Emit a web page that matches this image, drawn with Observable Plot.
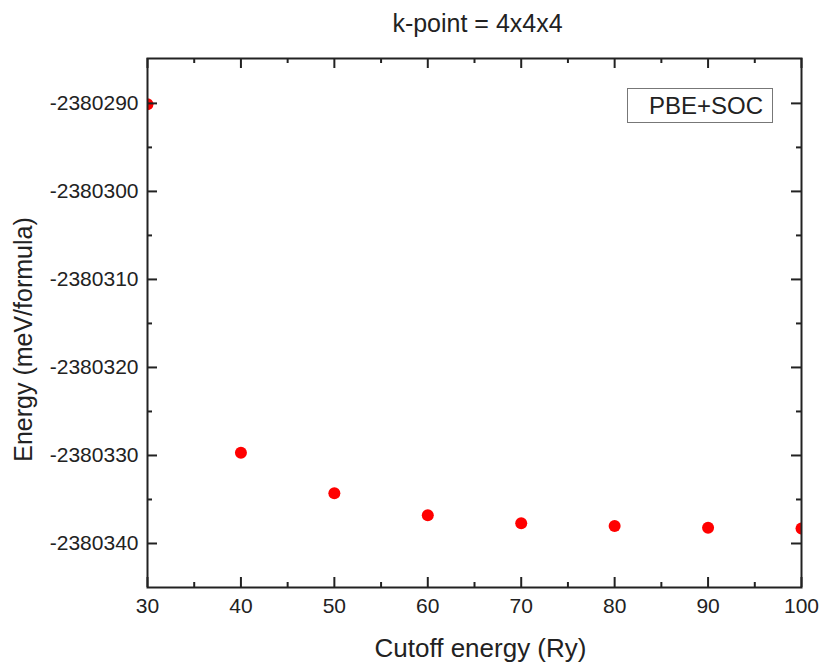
<!DOCTYPE html>
<html><head><meta charset="utf-8">
<script src="https://cdn.jsdelivr.net/npm/d3@7"></script>
<script src="https://cdn.jsdelivr.net/npm/@observablehq/plot@0.6"></script>
<style>
body{margin:0;background:#fff;font-family:Arial,"Liberation Sans",sans-serif;}
#wrap{position:relative;width:821px;height:663px;overflow:hidden;}
#title{height:34px;line-height:34px;padding-top:6px;padding-left:134px;text-align:center;font-size:25px;color:#222;white-space:nowrap;}
#legend{position:absolute;left:627px;top:88px;width:135px;height:33px;padding-right:9px;border:1px solid #777;text-align:right;line-height:33px;font-size:24px;color:#222;background:#fff;}
svg{display:block;}
</style>
</head><body>
<div id="wrap">
  <div id="title">k-point = 4x4x4</div>
  <div id="chart"></div>
  <div id="legend">PBE+SOC</div>
</div>
<script>
const cutoff = [30, 40, 50, 60, 70, 80, 90, 100];
const energy = [-2380290.1, -2380329.7, -2380334.3, -2380336.8, -2380337.7, -2380338.0, -2380338.2, -2380338.3];
const xMajor = [30, 40, 50, 60, 70, 80, 90, 100];
const xMinor = [35, 45, 55, 65, 75, 85, 95];
const yMajor = [-2380340, -2380330, -2380320, -2380310, -2380300, -2380290];
const yMinor = [-2380335, -2380325, -2380315, -2380305, -2380295];
const xLabel = "Cutoff energy (Ry)";
const yLabel = "Energy (meV/formula)";

const points = cutoff.map((x, i) => ({x, y: energy[i]}));
const W = 821, H = 623, mT = 18, mB = 76, mL = 147, mR = 20;
const ph = H - mT - mB, pw = W - mL - mR;
const ink = "#222";
const fmt = d => String(d);

const chart = Plot.plot({
  width: W, height: H,
  marginTop: mT, marginBottom: mB, marginLeft: mL, marginRight: mR,
  x: {domain: [30, 100]},
  y: {domain: [-2380345, -2380284.9]},
  style: {fontFamily: "Arial, 'Liberation Sans', sans-serif", color: ink, background: "white"},
  marks: [
    Plot.dot(points, {x: "x", y: "y", r: 6, fill: "#ff0000", clip: true}),
    // inward ticks, bottom & top
    Plot.tickX(xMajor, {x: d => d, stroke: ink, strokeWidth: 2, insetTop: ph - 10}),
    Plot.tickX(xMajor, {x: d => d, stroke: ink, strokeWidth: 2, insetBottom: ph - 10}),
    Plot.tickX(xMinor, {x: d => d, stroke: ink, strokeWidth: 2, insetTop: ph - 5}),
    Plot.tickX(xMinor, {x: d => d, stroke: ink, strokeWidth: 2, insetBottom: ph - 5}),
    // inward ticks, left & right
    Plot.tickY(yMajor, {y: d => d, stroke: ink, strokeWidth: 2, insetRight: pw - 10}),
    Plot.tickY(yMajor, {y: d => d, stroke: ink, strokeWidth: 2, insetLeft: pw - 10}),
    Plot.tickY(yMinor, {y: d => d, stroke: ink, strokeWidth: 2, insetRight: pw - 5}),
    Plot.tickY(yMinor, {y: d => d, stroke: ink, strokeWidth: 2, insetLeft: pw - 5}),
    Plot.axisX({ticks: xMajor, tickSize: 0, tickPadding: 11, fontSize: 21, label: null, tickFormat: fmt}),
    Plot.axisY({ticks: yMajor, tickSize: 0, tickPadding: 9, fontSize: 21, label: null, tickFormat: fmt}),
    Plot.frame({stroke: ink, strokeWidth: 2}),
    Plot.text([xLabel], {frameAnchor: "bottom", textAnchor: "middle", lineAnchor: "middle", dx: 6, dy: 61, fontSize: 26, text: d => d}),
    Plot.text([yLabel], {frameAnchor: "left", textAnchor: "middle", lineAnchor: "middle", dx: -124, dy: 16.5, rotate: -90, fontSize: 25, text: d => d})
  ]
});
document.getElementById("chart").appendChild(chart);
</script>
</body></html>
